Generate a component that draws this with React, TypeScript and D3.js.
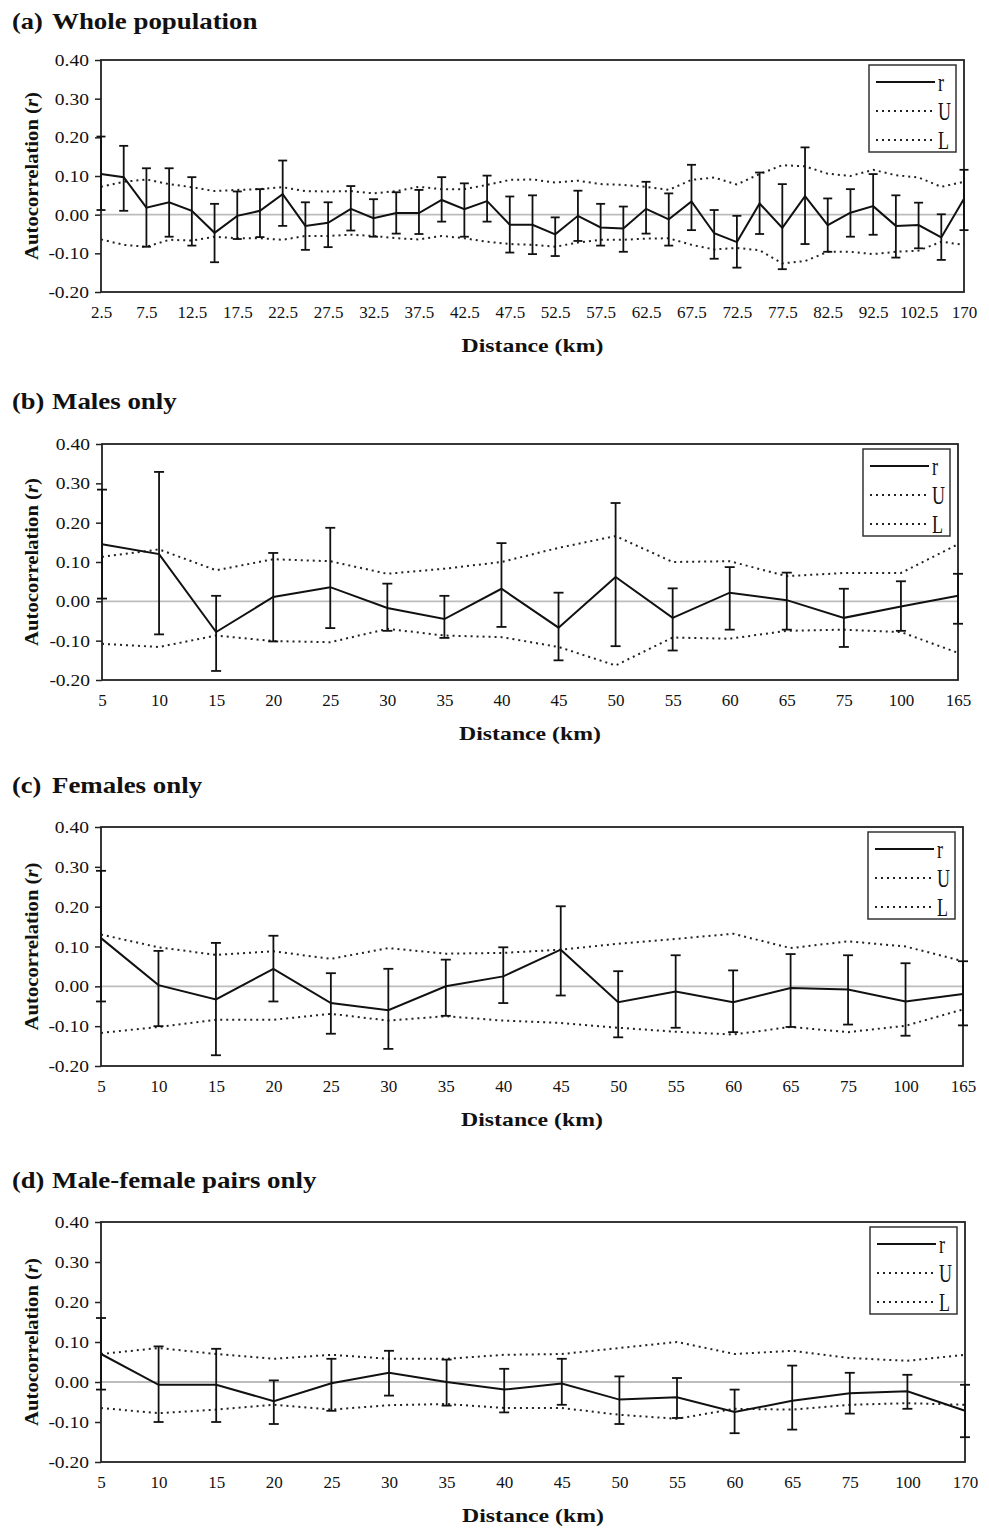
import React, { useEffect, useRef } from 'react';
import * as d3 from 'd3';

const SERIF = '"Liberation Serif", "Times New Roman", serif';

// (a) Whole population
const wholeDistance = ['2.5', '5', '7.5', '10', '12.5', '15', '17.5', '20', '22.5', '25', '27.5', '30', '32.5', '35', '37.5', '40', '42.5', '45', '47.5', '50', '52.5', '55', '57.5', '60', '62.5', '65', '67.5', '70', '72.5', '75', '77.5', '80', '82.5', '87.5', '92.5', '97.5', '102.5', '107.5', '170'];
const wholeR = [0.105, 0.097, 0.018, 0.032, 0.010, -0.047, -0.003, 0.010, 0.053, -0.029, -0.021, 0.015, -0.009, 0.004, 0.004, 0.038, 0.014, 0.035, -0.026, -0.026, -0.051, -0.003, -0.033, -0.036, 0.015, -0.012, 0.034, -0.048, -0.071, 0.029, -0.034, 0.048, -0.027, 0.005, 0.022, -0.029, -0.027, -0.059, 0.041];
const wholeHi = [0.202, 0.178, 0.120, 0.120, 0.097, 0.028, 0.060, 0.066, 0.140, 0.032, 0.032, 0.074, 0.040, 0.058, 0.064, 0.097, 0.081, 0.101, 0.047, 0.050, -0.007, 0.062, 0.028, 0.021, 0.085, 0.055, 0.129, 0.012, -0.003, 0.109, 0.079, 0.174, 0.042, 0.066, 0.105, 0.050, 0.031, 0.001, 0.116];
const wholeLo = [0.012, 0.010, -0.083, -0.057, -0.080, -0.123, -0.063, -0.058, -0.029, -0.091, -0.084, -0.041, -0.057, -0.049, -0.050, -0.018, -0.057, -0.018, -0.098, -0.102, -0.107, -0.068, -0.080, -0.096, -0.049, -0.080, -0.040, -0.114, -0.137, -0.050, -0.141, -0.076, -0.096, -0.057, -0.052, -0.111, -0.087, -0.117, -0.040];
const wholeU = [0.072, 0.085, 0.091, 0.079, 0.071, 0.061, 0.064, 0.066, 0.071, 0.061, 0.060, 0.061, 0.055, 0.061, 0.072, 0.066, 0.066, 0.077, 0.090, 0.091, 0.083, 0.088, 0.079, 0.077, 0.072, 0.064, 0.090, 0.096, 0.078, 0.105, 0.128, 0.125, 0.106, 0.100, 0.116, 0.102, 0.096, 0.072, 0.085];
const wholeL = [-0.064, -0.078, -0.083, -0.065, -0.067, -0.057, -0.061, -0.061, -0.065, -0.055, -0.055, -0.052, -0.055, -0.061, -0.064, -0.055, -0.061, -0.070, -0.076, -0.078, -0.083, -0.072, -0.065, -0.065, -0.062, -0.061, -0.078, -0.090, -0.086, -0.092, -0.126, -0.120, -0.096, -0.096, -0.102, -0.096, -0.093, -0.070, -0.078];

// (b) Males only
const malesDistance = ['5', '10', '15', '20', '25', '30', '35', '40', '45', '50', '55', '60', '65', '75', '100', '165'];
const malesR = [0.145, 0.120, -0.078, 0.011, 0.036, -0.017, -0.045, 0.032, -0.067, 0.062, -0.042, 0.022, 0.003, -0.042, -0.013, 0.014];
const malesHi = [0.284, 0.329, 0.014, 0.123, 0.187, 0.045, 0.014, 0.148, 0.022, 0.250, 0.033, 0.087, 0.073, 0.032, 0.051, 0.070];
const malesLo = [0.007, -0.084, -0.177, -0.102, -0.068, -0.075, -0.093, -0.065, -0.150, -0.114, -0.125, -0.072, -0.072, -0.116, -0.075, -0.057];
const malesU = [0.113, 0.132, 0.079, 0.107, 0.102, 0.070, 0.083, 0.100, 0.136, 0.166, 0.100, 0.102, 0.064, 0.072, 0.072, 0.145];
const malesL = [-0.108, -0.116, -0.087, -0.101, -0.104, -0.070, -0.087, -0.091, -0.116, -0.163, -0.092, -0.095, -0.075, -0.072, -0.078, -0.131];

// (c) Females only
const femalesDistance = ['5', '10', '15', '20', '25', '30', '35', '40', '45', '50', '55', '60', '65', '75', '100', '165'];
const femalesR = [0.121, 0.003, -0.033, 0.044, -0.042, -0.060, 0.000, 0.025, 0.092, -0.040, -0.013, -0.040, -0.004, -0.008, -0.038, -0.019];
const femalesHi = [0.290, 0.089, 0.109, 0.127, 0.033, 0.044, 0.067, 0.098, 0.201, 0.038, 0.078, 0.040, 0.081, 0.078, 0.058, 0.063];
const femalesLo = [-0.038, -0.100, -0.173, -0.038, -0.119, -0.157, -0.074, -0.042, -0.023, -0.128, -0.104, -0.115, -0.102, -0.096, -0.124, -0.098];
const femalesU = [0.130, 0.098, 0.079, 0.088, 0.069, 0.096, 0.082, 0.084, 0.092, 0.107, 0.119, 0.132, 0.096, 0.113, 0.100, 0.063];
const femalesL = [-0.117, -0.102, -0.084, -0.084, -0.069, -0.086, -0.075, -0.086, -0.092, -0.104, -0.114, -0.121, -0.102, -0.115, -0.099, -0.058];

// (d) Male-female pairs only
const pairsDistance = ['5', '10', '15', '20', '25', '30', '35', '40', '45', '50', '55', '60', '65', '75', '100', '170'];
const pairsR = [0.070, -0.007, -0.007, -0.048, -0.003, 0.023, 0.000, -0.019, -0.004, -0.044, -0.038, -0.075, -0.047, -0.028, -0.023, -0.072];
const pairsHi = [0.160, 0.089, 0.083, 0.004, 0.058, 0.078, 0.056, 0.033, 0.058, 0.014, 0.010, -0.019, 0.041, 0.023, 0.018, -0.007];
const pairsLo = [-0.019, -0.100, -0.100, -0.105, -0.072, -0.034, -0.059, -0.076, -0.057, -0.105, -0.090, -0.128, -0.119, -0.079, -0.067, -0.138];
const pairsU = [0.070, 0.085, 0.070, 0.058, 0.068, 0.058, 0.058, 0.068, 0.070, 0.085, 0.100, 0.070, 0.078, 0.060, 0.053, 0.068];
const pairsL = [-0.065, -0.078, -0.069, -0.057, -0.069, -0.058, -0.055, -0.065, -0.065, -0.082, -0.092, -0.067, -0.069, -0.057, -0.053, -0.057];

const yTicks = [-0.2, -0.1, 0, 0.1, 0.2, 0.3, 0.4];
const legendLabels = ['r', 'U', 'L'];

const panels = [
  { tag: '(a)', name: 'Whole population', cats: wholeDistance, r: wholeR, hi: wholeHi, lo: wholeLo, U: wholeU, L: wholeL, every: 2, titleY: 29, frame: [101, 60, 964, 292], cap: 4.5 },
  { tag: '(b)', name: 'Males only', cats: malesDistance, r: malesR, hi: malesHi, lo: malesLo, U: malesU, L: malesL, every: 1, titleY: 409, frame: [102, 444, 958, 680], cap: 5 },
  { tag: '(c)', name: 'Females only', cats: femalesDistance, r: femalesR, hi: femalesHi, lo: femalesLo, U: femalesU, L: femalesL, every: 1, titleY: 793, frame: [101, 827, 963, 1066], cap: 5 },
  { tag: '(d)', name: 'Male-female pairs only', cats: pairsDistance, r: pairsR, hi: pairsHi, lo: pairsLo, U: pairsU, L: pairsL, every: 1, titleY: 1188, frame: [101, 1222, 965, 1462], cap: 5 },
];

// text that is stretched horizontally, like the scanned figure
const wideText = (parent: any, x: number, y: number, sx: number, text: string, size: number, weight: string, anchor: string) =>
  parent.append('text')
    .attr('transform', `translate(${x},${y}) scale(${sx},1)`)
    .attr('font-family', SERIF)
    .attr('font-size', size)
    .attr('font-weight', weight)
    .attr('text-anchor', anchor)
    .attr('fill', '#111')
    .text(text);

const drawPanel = (svg: any, p: any) => {
  const [left, top, right, bottom] = p.frame;
  const x = d3.scalePoint<string>().domain(p.cats).range([left, right]);
  const y = d3.scaleLinear().domain([-0.2, 0.4]).range([bottom, top]);
  const g = svg.append('g');

  // Panel title
  wideText(g, 12, p.titleY, 1.15, p.tag, 23, 'bold', 'start');
  wideText(g, 52, p.titleY, 1.17, p.name, 23, 'bold', 'start');

  // Zero reference line
  g.append('line')
    .attr('x1', left).attr('x2', right)
    .attr('y1', y(0)).attr('y2', y(0))
    .attr('stroke', '#bdbdbd')
    .attr('stroke-width', 1.8);

  // Plot frame
  g.append('rect')
    .attr('x', left).attr('y', top)
    .attr('width', right - left).attr('height', bottom - top)
    .attr('fill', 'none')
    .attr('stroke', '#222')
    .attr('stroke-width', 1.8);

  // Y axis
  const yAxis = g.append('g')
    .attr('transform', `translate(${left},0)`)
    .call(d3.axisLeft(y).tickValues(yTicks).tickSize(6).tickFormat((d: any) => (+d).toFixed(2)));
  yAxis.select('.domain').remove();
  yAxis.selectAll('line').attr('stroke', '#222').attr('stroke-width', 1.5);
  yAxis.selectAll('text')
    .attr('x', null)
    .attr('dy', null)
    .attr('transform', 'translate(-12,5.5) scale(1.22,1)')
    .attr('font-family', SERIF)
    .attr('font-size', 16)
    .attr('fill', '#111');

  // X axis (category labels)
  const xAxis = g.append('g')
    .attr('transform', `translate(0,${bottom})`)
    .call(d3.axisBottom(x).tickSize(0).tickPadding(14).tickFormat((d: string, i: number) => (i % p.every === 0 ? d : '')));
  xAxis.select('.domain').remove();
  xAxis.selectAll('text')
    .attr('font-family', SERIF)
    .attr('font-size', 17)
    .attr('fill', '#111');

  // Axis titles
  wideText(g, (left + right) / 2, bottom + 60, 1.25, 'Distance (km)', 19, 'bold', 'middle');

  const yTitle = g.append('text')
    .attr('transform', `translate(38,${(top + bottom) / 2}) rotate(-90) scale(1.15,1)`)
    .attr('font-family', SERIF)
    .attr('font-size', 18)
    .attr('font-weight', 'bold')
    .attr('text-anchor', 'middle')
    .attr('fill', '#111');
  yTitle.append('tspan').text('Autocorrelation (');
  yTitle.append('tspan').attr('font-style', 'italic').text('r');
  yTitle.append('tspan').text(')');

  // Confidence limits U and L
  const line = d3.line<number>()
    .x((_, i) => x(p.cats[i]) as number)
    .y(d => y(d));

  [p.U, p.L].forEach(series => {
    g.append('path')
      .attr('d', line(series))
      .attr('fill', 'none')
      .attr('stroke', '#222')
      .attr('stroke-width', 2)
      .attr('stroke-dasharray', '2,4');
  });

  // Error bars
  const rows = p.cats.map((c: string, i: number) => ({ c, hi: p.hi[i], lo: p.lo[i] }));
  const bars = g.append('g')
    .attr('stroke', '#111')
    .attr('stroke-width', 1.8)
    .selectAll('g')
    .data(rows)
    .join('g');
  bars.append('line')
    .attr('x1', (d: any) => x(d.c)).attr('x2', (d: any) => x(d.c))
    .attr('y1', (d: any) => y(d.hi)).attr('y2', (d: any) => y(d.lo));
  bars.append('line')
    .attr('x1', (d: any) => (x(d.c) as number) - p.cap).attr('x2', (d: any) => (x(d.c) as number) + p.cap)
    .attr('y1', (d: any) => y(d.hi)).attr('y2', (d: any) => y(d.hi));
  bars.append('line')
    .attr('x1', (d: any) => (x(d.c) as number) - p.cap).attr('x2', (d: any) => (x(d.c) as number) + p.cap)
    .attr('y1', (d: any) => y(d.lo)).attr('y2', (d: any) => y(d.lo));

  // Autocorrelation r
  g.append('path')
    .attr('d', line(p.r))
    .attr('fill', 'none')
    .attr('stroke', '#111')
    .attr('stroke-width', 2);

  // Legend
  const lx = right - 95;
  const ly = top + 5;
  g.append('rect')
    .attr('x', lx).attr('y', ly)
    .attr('width', 87).attr('height', 87)
    .attr('fill', '#fff')
    .attr('stroke', '#333')
    .attr('stroke-width', 1.5);
  legendLabels.forEach((label, k) => {
    const yy = ly + 17 + k * 29;
    g.append('line')
      .attr('x1', lx + 7).attr('x2', lx + 66)
      .attr('y1', yy).attr('y2', yy)
      .attr('stroke', k === 0 ? '#111' : '#222')
      .attr('stroke-width', 2)
      .attr('stroke-dasharray', k === 0 ? null : '2,4');
    wideText(g, lx + 69, yy + 8.5, 0.72, label, 25, 'normal', 'start');
  });
};

const App = () => {
  const ref = useRef<HTMLDivElement>(null);

  useEffect(() => {
    d3.select(ref.current).selectAll('*').remove();
    const svg = d3.select(ref.current)
      .append('svg')
      .attr('width', 989)
      .attr('height', 1530)
      .style('position', 'absolute')
      .style('left', '0px')
      .style('top', '0px')
      .style('background', '#fff');

    panels.forEach(p => drawPanel(svg, p));
  }, []);

  return <div ref={ref}></div>;
};

export default App;
